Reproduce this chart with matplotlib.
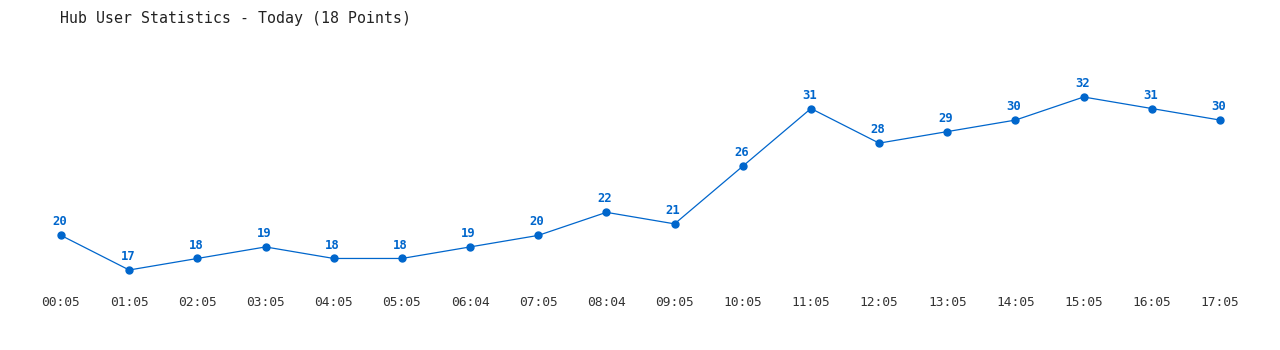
import matplotlib
matplotlib.use("Agg")
import matplotlib.pyplot as plt

# Datos de la gráfica
times = ["00:05", "01:05", "02:05", "03:05", "04:05", "05:05", "06:04", "07:05", "08:04",
         "09:05", "10:05", "11:05", "12:05", "13:05", "14:05", "15:05", "16:05", "17:05"]
users = [20, 17, 18, 19, 18, 18, 19, 20, 22, 21, 26, 31, 28, 29, 30, 32, 31, 30]

title = "Hub User Statistics - Today (18 Points)"
blue = "#0066CC"

W, H = 1280, 350
fig = plt.figure(figsize=(W / 100, H / 100), dpi=100)

# ejes colocados en pixeles: x de 61 a 1220, y de 97 (max) a 270 (min)
x0, x1 = 61, 1220
y_top, y_bot = 97, 270
ax = fig.add_axes([x0 / W, (H - y_bot) / H, (x1 - x0) / W, (y_bot - y_top) / H])

xs = list(range(len(times)))
ax.plot(xs, users, color=blue, lw=0.9, marker="o", ms=5, clip_on=False)

for x, v in zip(xs, users):
    ax.annotate(str(v), (x, v), xytext=(-1, 5), textcoords="offset points",
                ha="center", va="bottom", color=blue, fontsize=8.8,
                fontweight="bold", family="DejaVu Sans Mono")

ax.set_xlim(0, len(times) - 1)
ax.set_ylim(min(users), max(users))
ax.set_xticks(xs)
ax.set_xticklabels(times, family="DejaVu Sans Mono", fontsize=9.3, color="#333333")
ax.tick_params(axis="x", length=0, pad=19)
ax.set_yticks([])
for s in ax.spines.values():
    s.set_visible(False)

fig.text(60 / W, 1 - 18 / H, title, family="DejaVu Sans Mono", fontsize=10.7,
         color="#222222", va="center", ha="left")

fig.savefig("out.png", dpi=100)
